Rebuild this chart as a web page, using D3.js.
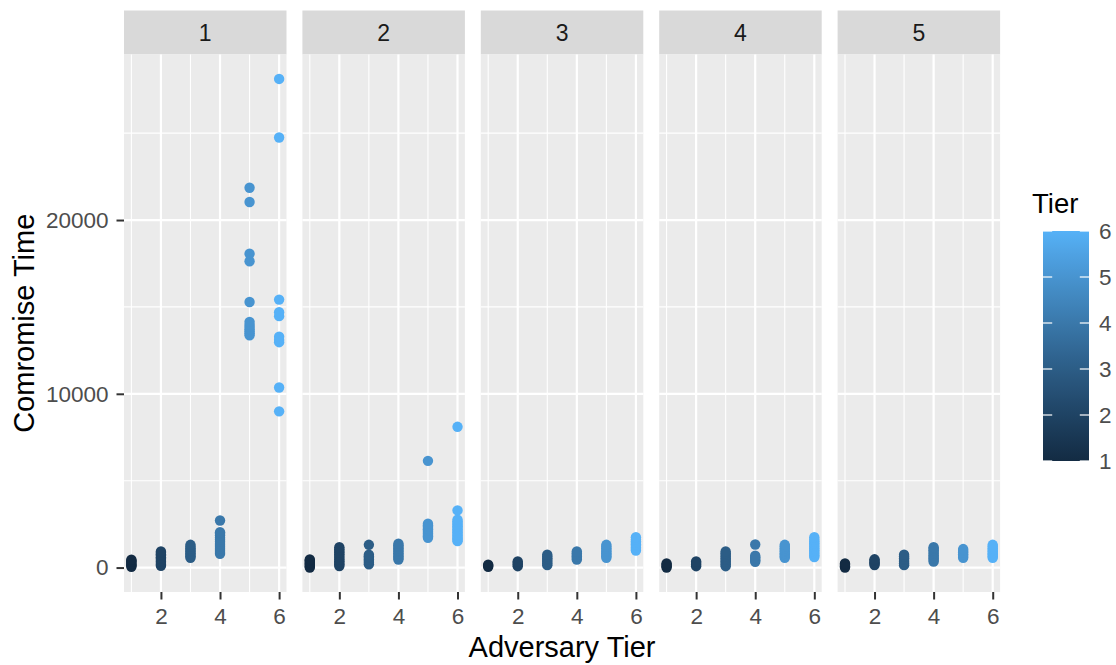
<!DOCTYPE html>
<html>
<head>
<meta charset="utf-8">
<script src="https://cdn.jsdelivr.net/npm/d3@7"></script>
<style>
  html, body { margin: 0; padding: 0; background: #ffffff; }
  svg { display: block; font-family: "Liberation Sans", Arial, sans-serif; }
</style>
</head>
<body>
<svg id="chart" width="1116" height="665"></svg>
<script>
// Facets (defender tier) and the adversary tiers on the x axis
const facetTiers = [1, 2, 3, 4, 5];
const adversaryTiers = [1, 2, 3, 4, 5, 6];

// Compromise times, one inner list per adversary tier (1..6)
const tier1Times = [
  [50, 120, 180, 260, 330, 400, 450],
  [100, 180, 260, 350, 430, 520, 600, 690, 770, 850, 930],
  [560, 650, 740, 830, 920, 1010, 1100, 1200, 1310],
  [790, 900, 1010, 1120, 1240, 1360, 1480, 1600, 1720, 1840, 1950, 2030, 2710],
  [13370, 13480, 13600, 13720, 13850, 13980, 14140, 15280, 17630, 18060, 21040, 21860],
  [8990, 10360, 12970, 13100, 13290, 14470, 14700, 15420, 24750, 28120]
];
const tier2Times = [
  [0, 80, 160, 240, 320, 400, 470],
  [90, 180, 270, 370, 460, 560, 660, 760, 860, 960, 1060, 1170],
  [185, 280, 380, 470, 560, 650, 735, 1310],
  [460, 550, 640, 730, 820, 920, 1010, 1100, 1190, 1280, 1370],
  [1715, 1800, 1880, 1960, 2040, 2120, 2200, 2280, 2360, 2440, 2520, 6140],
  [1520, 1600, 1680, 1760, 1840, 1930, 2020, 2110, 2200, 2290, 2380, 2470, 2560, 2650, 2750, 3290, 8100]
];
const tier3Times = [
  [40, 110, 160],
  [80, 170, 260, 350],
  [140, 240, 340, 440, 540, 640, 735],
  [460, 550, 640, 730, 830, 925],
  [560, 650, 740, 830, 920, 1010, 1110, 1210, 1310],
  [980, 1070, 1160, 1250, 1340, 1430, 1520, 1620, 1745]
];
const tier4Times = [
  [0, 80, 160, 240],
  [80, 170, 260, 350],
  [80, 170, 260, 350, 440, 540, 640, 730, 830, 925],
  [330, 420, 510, 600, 680, 1330],
  [560, 650, 740, 830, 920, 1010, 1110, 1210, 1310],
  [610, 700, 800, 900, 1000, 1100, 1200, 1300, 1400, 1500, 1600, 1745]
];
const tier5Times = [
  [0, 80, 160, 240],
  [145, 230, 310, 390, 475],
  [140, 240, 340, 440, 540, 640, 735],
  [340, 430, 520, 610, 700, 800, 900, 1000, 1090, 1170],
  [560, 660, 760, 860, 960, 1065],
  [560, 650, 740, 830, 920, 1010, 1110, 1210, 1310]
];

// Axis breaks
const xBreaks = [2, 4, 6];
const xMinorBreaks = [1, 3, 5];
const yBreaks = [0, 10000, 20000];
const yMinorBreaks = [5000, 15000, 25000];
const legendBreaks = [1, 2, 3, 4, 5, 6];

const xTitle = "Adversary Tier";
const yTitle = "Comromise Time";
const legendTitle = "Tier";

// ---- assemble long-format rows ----
const timesByFacet = [tier1Times, tier2Times, tier3Times, tier4Times, tier5Times];
const rows = [];
facetTiers.forEach((f, fi) => {
  adversaryTiers.forEach((a, ai) => {
    timesByFacet[fi][ai].forEach(v => rows.push({ facet: f, adv: a, time: v }));
  });
});

// ---- layout ----
const svg = d3.select("#chart");
const panelLeft = 124, panelW = 162.5, panelGap = 15.9;
const panelTop = 54.5, panelBottom = 592;
const stripTop = 10.5;

const bg = "#EBEBEB", stripBg = "#D9D9D9";
const axisTextColor = "#4D4D4D", tickColor = "#333333";

const color = d3.scaleLinear()
  .domain([1, 6])
  .range(["#132B43", "#56B1F7"])
  .interpolate(d3.interpolateLab);

const xExt = d3.extent(adversaryTiers);
const xPad = (xExt[1] - xExt[0]) * 0.05;
const x = d3.scaleLinear().domain([xExt[0] - xPad, xExt[1] + xPad]).range([0, panelW]);

const yExt = d3.extent(rows, d => d.time);
const yPad = (yExt[1] - yExt[0]) * 0.05;
const y = d3.scaleLinear().domain([yExt[0] - yPad, yExt[1] + yPad]).range([panelBottom, panelTop]);

facetTiers.forEach((f, fi) => {
  const px = panelLeft + fi * (panelW + panelGap);
  const g = svg.append("g").attr("transform", `translate(${px},0)`);

  // strip
  g.append("rect")
    .attr("x", 0).attr("y", stripTop)
    .attr("width", panelW).attr("height", panelTop - stripTop)
    .attr("fill", stripBg);
  g.append("text")
    .attr("x", panelW / 2).attr("y", (stripTop + panelTop) / 2)
    .attr("dy", "0.36em")
    .attr("text-anchor", "middle")
    .attr("font-size", 23)
    .attr("fill", "#1A1A1A")
    .text(f);

  // panel background
  g.append("rect")
    .attr("x", 0).attr("y", panelTop)
    .attr("width", panelW).attr("height", panelBottom - panelTop)
    .attr("fill", bg);

  // minor grid
  g.selectAll(".ymin").data(yMinorBreaks).enter().append("line")
    .attr("x1", 0).attr("x2", panelW)
    .attr("y1", d => y(d)).attr("y2", d => y(d))
    .attr("stroke", "#fff").attr("stroke-width", 1.1);
  g.selectAll(".xmin").data(xMinorBreaks).enter().append("line")
    .attr("y1", panelTop).attr("y2", panelBottom)
    .attr("x1", d => x(d)).attr("x2", d => x(d))
    .attr("stroke", "#fff").attr("stroke-width", 1.1);
  // major grid
  g.selectAll(".ymaj").data(yBreaks).enter().append("line")
    .attr("x1", 0).attr("x2", panelW)
    .attr("y1", d => y(d)).attr("y2", d => y(d))
    .attr("stroke", "#fff").attr("stroke-width", 2.2);
  g.selectAll(".xmaj").data(xBreaks).enter().append("line")
    .attr("y1", panelTop).attr("y2", panelBottom)
    .attr("x1", d => x(d)).attr("x2", d => x(d))
    .attr("stroke", "#fff").attr("stroke-width", 2.2);

  // points
  g.selectAll("circle")
    .data(rows.filter(r => r.facet === f))
    .enter().append("circle")
    .attr("cx", d => x(d.adv))
    .attr("cy", d => y(d.time))
    .attr("r", 5.2)
    .attr("fill", d => color(d.adv));

  // x axis
  const xAxis = g.append("g")
    .attr("transform", `translate(0,${panelBottom})`)
    .call(d3.axisBottom(x).tickValues(xBreaks).tickSize(7.5).tickPadding(9).tickFormat(d3.format("d")));
  xAxis.select(".domain").remove();
  xAxis.selectAll("line").attr("stroke", tickColor).attr("stroke-width", 2);
  xAxis.selectAll("text").attr("fill", axisTextColor).attr("font-size", 22.5)
    .attr("font-family", "Liberation Sans, Arial, sans-serif");

  // y axis on the first panel only
  if (fi === 0) {
    const yAxis = g.append("g")
      .call(d3.axisLeft(y).tickValues(yBreaks).tickSize(7.5).tickPadding(8).tickFormat(d3.format("d")));
    yAxis.select(".domain").remove();
    yAxis.selectAll("line").attr("stroke", tickColor).attr("stroke-width", 2);
    yAxis.selectAll("text").attr("fill", axisTextColor).attr("font-size", 22.5)
      .attr("font-family", "Liberation Sans, Arial, sans-serif");
  }
});

// axis titles
const panelsRight = panelLeft + 5 * panelW + 4 * panelGap;
svg.append("text")
  .attr("x", (panelLeft + panelsRight) / 2).attr("y", 657)
  .attr("text-anchor", "middle")
  .attr("font-size", 29)
  .attr("fill", "#000")
  .text(xTitle);
svg.append("text")
  .attr("transform", `translate(34,${(panelTop + panelBottom) / 2}) rotate(-90)`)
  .attr("text-anchor", "middle")
  .attr("font-size", 29)
  .attr("fill", "#000")
  .text(yTitle);

// ---- colourbar legend ----
const barX = 1043, barW = 46, barTop = 231, barBottom = 461;
const legY = d3.scaleLinear().domain([1, 6]).range([barBottom, barTop]);

const defs = svg.append("defs");
const grad = defs.append("linearGradient")
  .attr("id", "tierGrad")
  .attr("x1", 0).attr("y1", 1).attr("x2", 0).attr("y2", 0);
d3.range(0, 1.0001, 0.05).forEach(t => {
  grad.append("stop").attr("offset", t).attr("stop-color", color(1 + 5 * t));
});

svg.append("text")
  .attr("x", 1032).attr("y", 213)
  .attr("font-size", 27.5)
  .attr("fill", "#000")
  .text(legendTitle);

svg.append("rect")
  .attr("x", barX).attr("y", barTop)
  .attr("width", barW).attr("height", barBottom - barTop)
  .attr("fill", "url(#tierGrad)");

const legTicks = svg.append("g");
legendBreaks.forEach(b => {
  legTicks.append("line")
    .attr("x1", barX).attr("x2", barX + barW / 5)
    .attr("y1", legY(b)).attr("y2", legY(b))
    .attr("stroke", "#fff").attr("stroke-width", 1.2);
  legTicks.append("line")
    .attr("x1", barX + barW - barW / 5).attr("x2", barX + barW)
    .attr("y1", legY(b)).attr("y2", legY(b))
    .attr("stroke", "#fff").attr("stroke-width", 1.2);
});

svg.append("g").selectAll("text")
  .data(legendBreaks).enter().append("text")
  .attr("x", 1099)
  .attr("y", d => legY(d))
  .attr("dy", "0.36em")
  .attr("font-size", 22.5)
  .attr("fill", axisTextColor)
  .text(d => d);
</script>
</body>
</html>
